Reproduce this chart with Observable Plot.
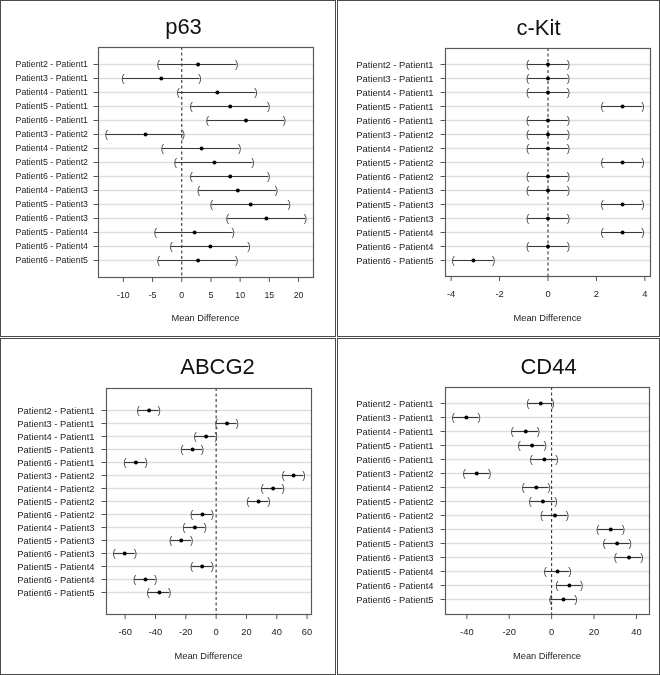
<!DOCTYPE html>
<html><head><meta charset="utf-8">
<script src="https://cdn.jsdelivr.net/npm/d3@7"></script>
<script src="https://cdn.jsdelivr.net/npm/@observablehq/plot@0.6"></script>
<style>
body{margin:0;background:#fff;}
#root{position:relative;width:660px;height:675px;overflow:hidden;font-family:"Liberation Sans",Arial,sans-serif;background:#fff;}
.frame{position:absolute;box-sizing:border-box;border:1.5px solid #4a4a4a;}
.title{position:absolute;width:200px;text-align:center;font-size:22px;line-height:22px;color:#111;white-space:nowrap;}
.xlab{position:absolute;width:160px;text-align:center;font-size:9.3px;line-height:10px;color:#222;white-space:nowrap;}
.plot{position:absolute;will-change:transform;}
</style></head><body><div id="root"></div>
<script>
// Comparison labels (top to bottom)
const comparisons = [
  "Patient2 - Patient1","Patient3 - Patient1","Patient4 - Patient1","Patient5 - Patient1","Patient6 - Patient1",
  "Patient3 - Patient2","Patient4 - Patient2","Patient5 - Patient2","Patient6 - Patient2",
  "Patient4 - Patient3","Patient5 - Patient3","Patient6 - Patient3",
  "Patient5 - Patient4","Patient6 - Patient4","Patient6 - Patient5"
];

// p63
const p63Diff = [2.8, -3.5, 6.1, 8.3, 11.0, -6.2, 3.4, 5.6, 8.3, 9.6, 11.8, 14.5, 2.2, 4.9, 2.8];
const p63Lwr  = [-4.0, -10.1, -0.6, 1.6, 4.4, -12.9, -3.3, -1.1, 1.6, 2.9, 5.1, 7.8, -4.5, -1.8, -4.0];
const p63Upr  = [9.4, 3.1, 12.7, 14.9, 17.6, 0.3, 9.9, 12.2, 14.9, 16.2, 18.4, 21.2, 8.8, 11.5, 9.4];
const p63Ticks = [-10, -5, 0, 5, 10, 15, 20];

// c-Kit
const ckitDiff = [0, 0, 0, 3.08, 0, 0, 0, 3.08, 0, 0, 3.08, 0, 3.08, 0, -3.08];
const ckitLwr  = [-0.84, -0.84, -0.84, 2.24, -0.84, -0.84, -0.84, 2.24, -0.84, -0.84, 2.24, -0.84, 2.24, -0.84, -3.92];
const ckitUpr  = [0.84, 0.84, 0.84, 3.92, 0.84, 0.84, 0.84, 3.92, 0.84, 0.84, 3.92, 0.84, 3.92, 0.84, -2.24];
const ckitTicks = [-4, -2, 0, 2, 4];

// ABCG2
const abcg2Diff = [-44.2, 7.2, -6.6, -15.5, -52.9, 51.1, 37.6, 28.0, -9.0, -14.0, -23.0, -60.3, -9.2, -46.6, -37.4];
const abcg2Lwr  = [-51.4, 0.2, -13.8, -22.5, -60.1, 44.2, 30.4, 21.0, -16.2, -21.2, -29.9, -67.3, -16.2, -53.8, -44.8];
const abcg2Upr  = [-37.6, 13.8, 0.0, -9.0, -46.1, 57.9, 44.2, 34.8, -2.4, -7.2, -16.2, -53.3, -2.4, -39.8, -30.6];
const abcg2Ticks = [-60, -40, -20, 0, 20, 40, 60];

// CD44
const cd44Diff = [-5.1, -40.2, -12.2, -9.2, -3.4, -35.3, -7.2, -4.1, 1.6, 27.9, 30.9, 36.5, 2.8, 8.4, 5.6];
const cd44Lwr  = [-11.2, -46.5, -18.6, -15.3, -9.7, -41.3, -13.4, -10.1, -4.7, 21.7, 24.8, 30.1, -3.1, 2.5, -0.6];
const cd44Upr  = [0.6, -34.2, -6.2, -3.1, 2.5, -29.2, -1.2, 2.0, 7.5, 33.9, 37.0, 42.6, 8.6, 14.2, 11.5];
const cd44Ticks = [-40, -20, 0, 20, 40];

const xLabel = "Mean Difference";
const root = document.getElementById("root");

function panel(cfg) {
  const rows = comparisons.map((c, i) => ({label: c, diff: cfg.diff[i], lwr: cfg.lwr[i], upr: cfg.upr[i]}));
  const lo = d3.min(rows, d => d.lwr), hi = d3.max(rows, d => d.upr);
  const ext = (hi - lo) * 0.04;
  const chart = Plot.plot({
    width: cfg.w, height: cfg.h,
    marginLeft: cfg.mL, marginRight: cfg.mR, marginTop: cfg.mT, marginBottom: cfg.mB,
    style: {fontFamily: '"Liberation Sans", Arial, sans-serif', fontSize: cfg.fs + "px", background: "transparent", color: "#222"},
    x: {domain: [lo - ext, hi + ext]},
    y: {type: "point", domain: comparisons, padding: 1.08},
    marks: [
      Plot.ruleY(rows, {y: "label", stroke: "#dedede", strokeWidth: 1.6}),
      Plot.ruleX([0], {stroke: "#222", strokeWidth: 1, strokeDasharray: "3,2.5"}),
      Plot.ruleY(rows, {y: "label", x1: "lwr", x2: "upr", stroke: "#3a3a3a", strokeWidth: 1.1}),
      Plot.text(rows, {x: "lwr", y: "label", text: () => "(", fontSize: 10, fill: "#444"}),
      Plot.text(rows, {x: "upr", y: "label", text: () => ")", fontSize: 10, fill: "#444"}),
      Plot.dot(rows, {x: "diff", y: "label", r: 2, fill: "#000", stroke: null}),
      Plot.frame({stroke: "#5a5a5a", strokeWidth: 1.2}),
      Plot.axisY({tickSize: 4.5, tickPadding: cfg.yPad, stroke: "#555", fill: "#222", label: null}),
      Plot.axisX(cfg.ticks, {tickSize: 5, tickPadding: 9, stroke: "#555", fill: "#222", label: null, tickFormat: d => String(d)})
    ]
  });
  chart.classList.add("plot");
  chart.style.left = cfg.left + "px";
  chart.style.top = cfg.top + "px";
  root.appendChild(chart);

  const t = document.createElement("div");
  t.className = "title";
  t.textContent = cfg.title;
  t.style.left = (cfg.titleX - 100) + "px";
  t.style.top = cfg.titleTop + "px";
  root.appendChild(t);

  const xl = document.createElement("div");
  xl.className = "xlab";
  xl.textContent = xLabel;
  xl.style.left = (cfg.left + (cfg.mL + cfg.w - cfg.mR) / 2 - 80) + "px";
  xl.style.top = (cfg.top + 313) + "px";
  root.appendChild(xl);

  const f = document.createElement("div");
  f.className = "frame";
  f.style.left = cfg.left + "px";
  f.style.top = cfg.top + "px";
  f.style.width = cfg.w + "px";
  f.style.height = cfg.h + "px";
  root.appendChild(f);
}

panel({title: "p63", diff: p63Diff, lwr: p63Lwr, upr: p63Upr, ticks: p63Ticks,
  left: 0, top: 0, w: 336, h: 337, mL: 98, mR: 23, mT: 47, mB: 60, fs: 8.8, yPad: 6, titleX: 183.5, titleTop: 15.5});
panel({title: "c-Kit", diff: ckitDiff, lwr: ckitLwr, upr: ckitUpr, ticks: ckitTicks,
  left: 337, top: 0, w: 323, h: 337, mL: 108, mR: 10, mT: 48, mB: 61, fs: 9.4, yPad: 7.5, titleX: 538.5, titleTop: 16.5});
panel({title: "ABCG2", diff: abcg2Diff, lwr: abcg2Lwr, upr: abcg2Upr, ticks: abcg2Ticks,
  left: 0, top: 338, w: 336, h: 337, mL: 106, mR: 25, mT: 50, mB: 61, fs: 9.4, yPad: 7.5, titleX: 217.5, titleTop: 356});
panel({title: "CD44", diff: cd44Diff, lwr: cd44Lwr, upr: cd44Upr, ticks: cd44Ticks,
  left: 337, top: 338, w: 323, h: 337, mL: 108, mR: 11, mT: 49, mB: 61, fs: 9.4, yPad: 7.5, titleX: 548.5, titleTop: 356});
</script>
</body></html>
